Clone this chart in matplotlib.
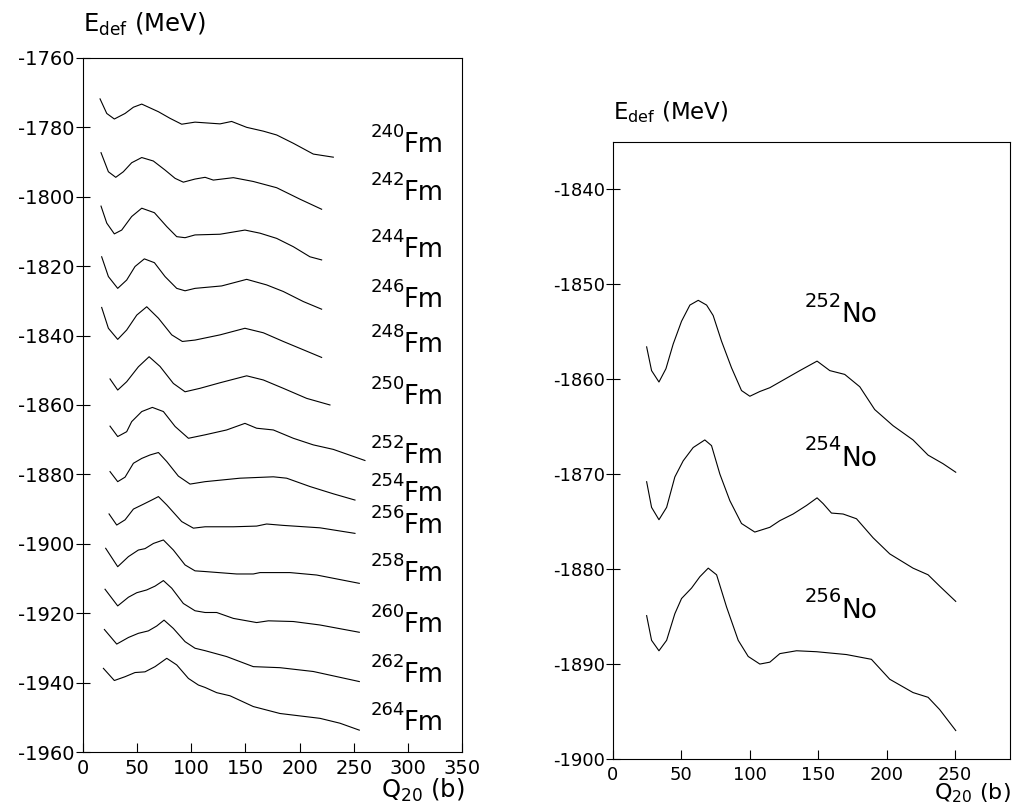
import matplotlib
matplotlib.use("Agg")
import matplotlib.pyplot as plt

plt.rcParams['font.family'] = ['DejaVu Sans']
plt.rcParams['axes.unicode_minus'] = False

# Fm izotopy: Q20 (b), E_def (MeV)
q_fm240 = [15.7, 21.9, 28.9, 38.8, 46.5, 54.2, 69.6, 80.3, 91.1, 103.4, 126.5, 137.2, 151.1, 166.5, 178.8, 194.2, 212.6, 231.1]
e_fm240 = [-1771.8, -1776.0, -1777.6, -1776.0, -1774.2, -1773.3, -1775.5, -1777.4, -1779.1, -1778.5, -1779.0, -1778.3, -1780.0, -1781.1, -1782.2, -1784.6, -1787.7, -1788.6]
q_fm242 = [16.6, 23.4, 30.2, 37.2, 44.9, 54.2, 64.9, 75.7, 85.0, 92.6, 103.4, 112.7, 120.3, 138.8, 157.2, 178.8, 200.3, 220.3]
e_fm242 = [-1787.3, -1792.8, -1794.4, -1792.8, -1790.2, -1788.7, -1789.7, -1792.3, -1794.7, -1795.8, -1794.9, -1794.4, -1795.2, -1794.5, -1795.6, -1797.4, -1800.7, -1803.6]
q_fm244 = [16.6, 21.9, 28.9, 35.7, 44.9, 54.2, 65.9, 77.3, 86.5, 94.2, 103.4, 126.5, 149.5, 163.4, 178.8, 194.2, 209.5, 220.3]
e_fm244 = [-1802.7, -1807.6, -1810.7, -1809.6, -1805.7, -1803.3, -1804.6, -1808.6, -1811.5, -1811.8, -1811.0, -1810.8, -1809.6, -1810.5, -1812.0, -1814.4, -1817.3, -1818.2]
q_fm246 = [17.2, 23.4, 32.0, 40.3, 48.0, 56.6, 65.9, 75.7, 86.5, 94.2, 103.4, 128.0, 151.1, 169.5, 184.9, 203.4, 220.3]
e_fm246 = [-1817.3, -1823.0, -1826.4, -1824.0, -1820.1, -1817.9, -1819.0, -1823.0, -1826.4, -1827.1, -1826.4, -1825.7, -1823.8, -1825.4, -1827.3, -1830.2, -1832.4]
q_fm248 = [17.2, 23.4, 32.0, 40.3, 49.6, 58.8, 69.6, 81.9, 91.7, 103.4, 126.5, 149.5, 166.5, 184.9, 203.4, 220.3]
e_fm248 = [-1831.9, -1837.9, -1841.1, -1838.4, -1834.1, -1831.7, -1835.0, -1839.8, -1841.7, -1841.3, -1839.8, -1837.9, -1839.2, -1841.7, -1844.1, -1846.3]
q_fm250 = [24.9, 32.0, 40.3, 51.1, 61.0, 71.1, 83.4, 94.2, 108.0, 126.5, 151.1, 166.5, 184.9, 206.5, 228.0]
e_fm250 = [-1852.5, -1855.7, -1853.3, -1849.0, -1846.1, -1848.9, -1853.8, -1856.2, -1855.2, -1853.6, -1851.6, -1852.8, -1855.2, -1858.1, -1860.0]
q_fm252 = [24.9, 32.0, 40.3, 44.9, 54.2, 64.0, 74.2, 85.0, 97.3, 112.7, 132.6, 149.5, 160.3, 175.7, 194.2, 212.6, 231.1, 260.3]
e_fm252 = [-1866.1, -1869.1, -1867.7, -1864.8, -1861.9, -1860.7, -1861.9, -1866.2, -1869.6, -1868.6, -1867.2, -1865.3, -1866.7, -1867.2, -1869.6, -1871.5, -1872.8, -1876.0]
q_fm254 = [24.9, 32.0, 38.8, 46.5, 54.2, 61.9, 69.6, 77.3, 88.0, 98.8, 112.7, 144.9, 175.7, 188.0, 209.5, 231.1, 251.1]
e_fm254 = [-1879.2, -1882.1, -1880.8, -1876.8, -1875.4, -1874.4, -1873.7, -1876.3, -1880.5, -1882.8, -1882.1, -1881.1, -1880.7, -1881.1, -1883.5, -1885.6, -1887.4]
q_fm256 = [24.0, 31.1, 38.8, 46.5, 55.7, 63.4, 69.6, 77.3, 91.1, 101.9, 112.7, 138.8, 160.3, 169.5, 184.9, 218.8, 251.1]
e_fm256 = [-1891.4, -1894.6, -1893.1, -1890.0, -1888.6, -1887.4, -1886.4, -1888.8, -1893.6, -1895.5, -1895.1, -1895.1, -1894.9, -1894.3, -1894.7, -1895.4, -1897.0]
q_fm258 = [20.9, 32.0, 41.9, 51.1, 57.2, 65.0, 74.2, 83.4, 94.2, 103.4, 112.7, 141.8, 157.2, 163.4, 191.1, 215.7, 255.1]
e_fm258 = [-1901.3, -1906.6, -1903.7, -1901.8, -1901.4, -1899.9, -1898.9, -1901.8, -1906.1, -1907.8, -1908.0, -1908.7, -1908.7, -1908.3, -1908.3, -1909.0, -1911.4]
q_fm260 = [20.3, 32.0, 41.9, 49.6, 58.8, 66.5, 74.2, 81.9, 92.6, 103.4, 112.7, 123.4, 138.8, 160.3, 171.1, 194.2, 218.8, 255.1]
e_fm260 = [-1913.1, -1917.9, -1915.4, -1914.1, -1913.3, -1912.2, -1910.6, -1912.8, -1917.2, -1919.3, -1919.8, -1919.8, -1921.5, -1922.7, -1922.2, -1922.4, -1923.4, -1925.5]
q_fm262 = [19.7, 31.1, 41.9, 51.1, 60.3, 68.0, 74.8, 83.4, 94.2, 103.4, 112.7, 132.6, 157.2, 181.8, 212.6, 255.1]
e_fm262 = [-1924.7, -1928.9, -1927.0, -1925.8, -1925.1, -1923.7, -1922.0, -1924.4, -1928.2, -1930.1, -1930.8, -1932.5, -1935.4, -1935.7, -1936.8, -1939.7]
q_fm264 = [18.8, 28.9, 38.8, 48.0, 57.2, 66.5, 77.3, 86.5, 97.3, 106.5, 112.7, 123.4, 135.7, 157.2, 181.8, 218.8, 237.2, 255.1]
e_fm264 = [-1935.9, -1939.4, -1938.3, -1937.1, -1936.9, -1935.4, -1933.0, -1934.9, -1938.8, -1940.7, -1941.4, -1942.9, -1943.8, -1946.9, -1948.9, -1950.3, -1951.7, -1953.7]

# No izotopy
q_no252 = [24.6, 28.2, 33.6, 38.7, 44.0, 50.1, 56.2, 62.3, 68.4, 73.2, 79.3, 86.6, 93.9, 100.0, 107.3, 114.6,
           121.9, 136.5, 149.1, 158.4, 169.3, 180.3, 191.2, 204.6, 219.2, 230.2, 241.1, 250.4]
e_no252 = [-1856.6, -1859.1, -1860.3, -1858.9, -1856.3, -1853.9, -1852.2, -1851.7, -1852.2, -1853.3, -1856.0, -1858.8, -1861.2, -1861.8, -1861.3, -1860.9,
           -1860.3, -1859.1, -1858.1, -1859.1, -1859.5, -1860.8, -1863.2, -1864.9, -1866.4, -1868.0, -1868.9, -1869.8]
q_no254 = [24.6, 28.2, 33.6, 39.2, 45.2, 51.3, 58.6, 67.1, 72.0, 78.1, 85.4, 93.9, 103.6, 114.6,
           121.9, 131.6, 141.4, 149.1, 153.5, 159.6, 168.1, 177.9, 190.0, 202.2, 219.2, 230.2, 238.7, 250.4]
e_no254 = [-1870.8, -1873.5, -1874.8, -1873.5, -1870.3, -1868.6, -1867.2, -1866.4, -1867.0, -1870.0, -1872.8, -1875.2, -1876.1, -1875.6,
           -1874.9, -1874.2, -1873.3, -1872.5, -1873.1, -1874.1, -1874.2, -1874.7, -1876.7, -1878.4, -1879.9, -1880.6, -1881.8, -1883.4]
q_no256 = [24.6, 28.2, 33.6, 39.2, 45.2, 50.1, 57.4, 63.5, 69.6, 75.7, 83.0, 91.5, 98.8, 107.3, 114.6,
           121.9, 134.1, 148.7, 170.6, 188.8, 202.2, 219.2, 230.2, 238.7, 250.4]
e_no256 = [-1884.9, -1887.5, -1888.6, -1887.5, -1884.7, -1883.1, -1882.0, -1880.8, -1879.9, -1880.6, -1884.0, -1887.5, -1889.2, -1890.0, -1889.8,
           -1888.9, -1888.6, -1888.7, -1889.0, -1889.5, -1891.6, -1893.0, -1893.5, -1894.8, -1897.0]

fm_masy = ["240", "242", "244", "246", "248", "250", "252", "254", "256", "258", "260", "262", "264"]
no_masy = ["252", "254", "256"]

fm_krivky = [(q_fm240, e_fm240), (q_fm242, e_fm242), (q_fm244, e_fm244), (q_fm246, e_fm246),
             (q_fm248, e_fm248), (q_fm250, e_fm250), (q_fm252, e_fm252), (q_fm254, e_fm254),
             (q_fm256, e_fm256), (q_fm258, e_fm258), (q_fm260, e_fm260), (q_fm262, e_fm262),
             (q_fm264, e_fm264)]
no_krivky = [(q_no252, e_no252), (q_no254, e_no254), (q_no256, e_no256)]

fig = plt.figure(figsize=(10.14, 8.08), dpi=100)
ax1 = fig.add_axes([0.0819, 0.0693, 0.3738, 0.859])
ax2 = fig.add_axes([0.6045, 0.0606, 0.3915, 0.764])

for q, e in fm_krivky:
    ax1.plot(q, e, color="black", lw=0.8)
for q, e in no_krivky:
    ax2.plot(q, e, color="black", lw=0.8)

# popisky izotopu
fm_y = [-1787.0, -1800.9, -1817.3, -1831.8, -1844.7, -1859.7, -1876.7, -1887.6, -1896.8, -1910.7, -1925.4, -1939.7, -1953.7]
for m, y in zip(fm_masy, fm_y):
    ax1.text(266, y + 4.3, m, fontsize=13, va="baseline", ha="left")
    ax1.text(296, y, "Fm", fontsize=18.5, va="baseline", ha="left")
no_y = [-1854.0, -1869.1, -1885.1]
for m, y in zip(no_masy, no_y):
    ax2.text(140, y + 1.6, m, fontsize=14, va="baseline", ha="left")
    ax2.text(167, y, "No", fontsize=19, va="baseline", ha="left")

ax1.set_xlim(0, 350)
ax1.set_ylim(-1960, -1760)
ax1.set_xticks(range(0, 351, 50))
ax1.set_yticks(range(-1960, -1759, 20))
ax2.set_xlim(0, 290)
ax2.set_ylim(-1900, -1835)
ax2.set_xticks(range(0, 251, 50))
ax2.set_yticks(range(-1900, -1839, 10))

for ax, fs in [(ax1, 14), (ax2, 13)]:
    ax.tick_params(axis="y", direction="inout", length=10, width=0.8, labelsize=fs, pad=1)
    ax.tick_params(axis="x", direction="in", length=6.5, width=0.8, labelsize=fs, pad=5)
    for s in ax.spines.values():
        s.set_linewidth(0.8)

fig.text(83 / 1014, 1 - 32 / 808, r"E$_{\rm def}$ (MeV)", fontsize=17.5, ha="left", va="baseline")
fig.text(465 / 1014, 1 - 798 / 808, r"Q$_{\rm 20}$ (b)", fontsize=17.5, ha="right", va="baseline")
fig.text(613 / 1014, 1 - 119 / 808, r"E$_{\rm def}$ (MeV)", fontsize=16.5, ha="left", va="baseline")
fig.text(1011 / 1014, 1 - 799 / 808, r"Q$_{\rm 20}$ (b)", fontsize=16, ha="right", va="baseline")

plt.savefig("out.png", dpi=100)
